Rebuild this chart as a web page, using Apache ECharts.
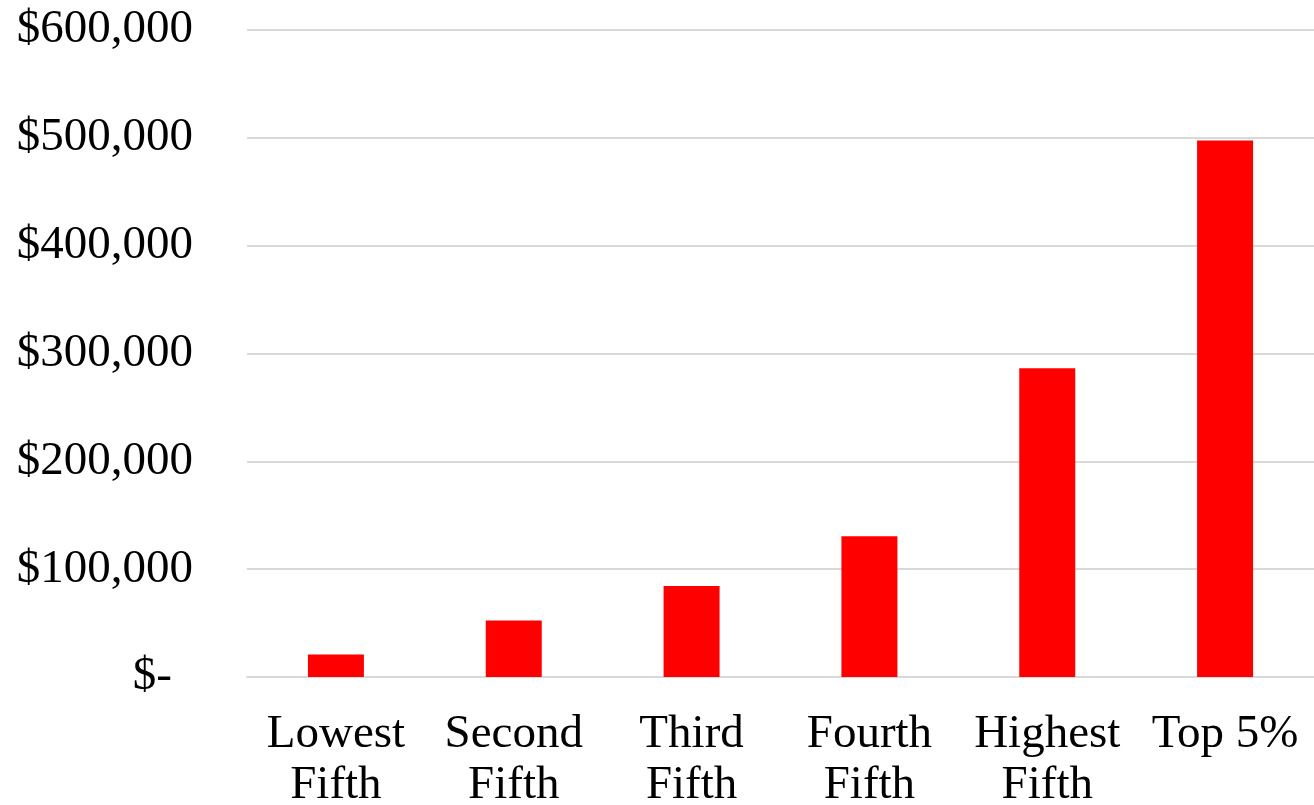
<!DOCTYPE html>
<html>
<head>
<meta charset="utf-8">
<script src="https://cdn.jsdelivr.net/npm/echarts@6/dist/echarts.min.js"></script>
<style>
  html, body { margin: 0; padding: 0; background: #fff; }
  #chart { width: 1314px; height: 805px; }
</style>
</head>
<body>
<div id="chart"></div>
<script>
// Household income by quintile
const categories = ['Lowest\nFifth', 'Second\nFifth', 'Third\nFifth', 'Fourth\nFifth', 'Highest\nFifth', 'Top 5%'];
const incomeValues = [20800, 52300, 84400, 130500, 286400, 497500];
const yTicks = [0, 100000, 200000, 300000, 400000, 500000, 600000];

const FONT = '"Liberation Serif", "DejaVu Serif", serif';

function money(v) {
  if (v === 0) return '{z|$-}';
  return '$' + v.toLocaleString('en-US');
}

const chart = echarts.init(document.getElementById('chart'));
chart.setOption({
  animation: false,
  grid: { left: 247, right: 0, top: 30, bottom: 128, containLabel: false, outerBoundsMode: 'none' },
  xAxis: {
    type: 'category',
    data: categories,
    axisLine: { show: true, lineStyle: { color: '#d9d9d9', width: 2 } },
    axisTick: { show: false },
    axisLabel: {
      interval: 0,
      margin: 32,
      color: '#000',
      fontFamily: FONT,
      fontSize: 47,
      lineHeight: 51
    }
  },
  yAxis: {
    type: 'value',
    min: yTicks[0],
    max: yTicks[yTicks.length - 1],
    interval: yTicks[1] - yTicks[0],
    axisLine: { show: false },
    axisTick: { show: false },
    splitLine: { lineStyle: { color: '#d9d9d9', width: 2 } },
    axisLabel: {
      margin: 54,
      color: '#000',
      fontFamily: FONT,
      fontSize: 47,
      formatter: money,
      rich: {
        z: { fontFamily: FONT, fontSize: 47, color: '#000', padding: [0, 21, 0, 0] }
      }
    }
  },
  series: [{
    type: 'bar',
    data: incomeValues,
    barWidth: 56,
    itemStyle: { color: '#ff0000' }
  }]
});
</script>
</body>
</html>
